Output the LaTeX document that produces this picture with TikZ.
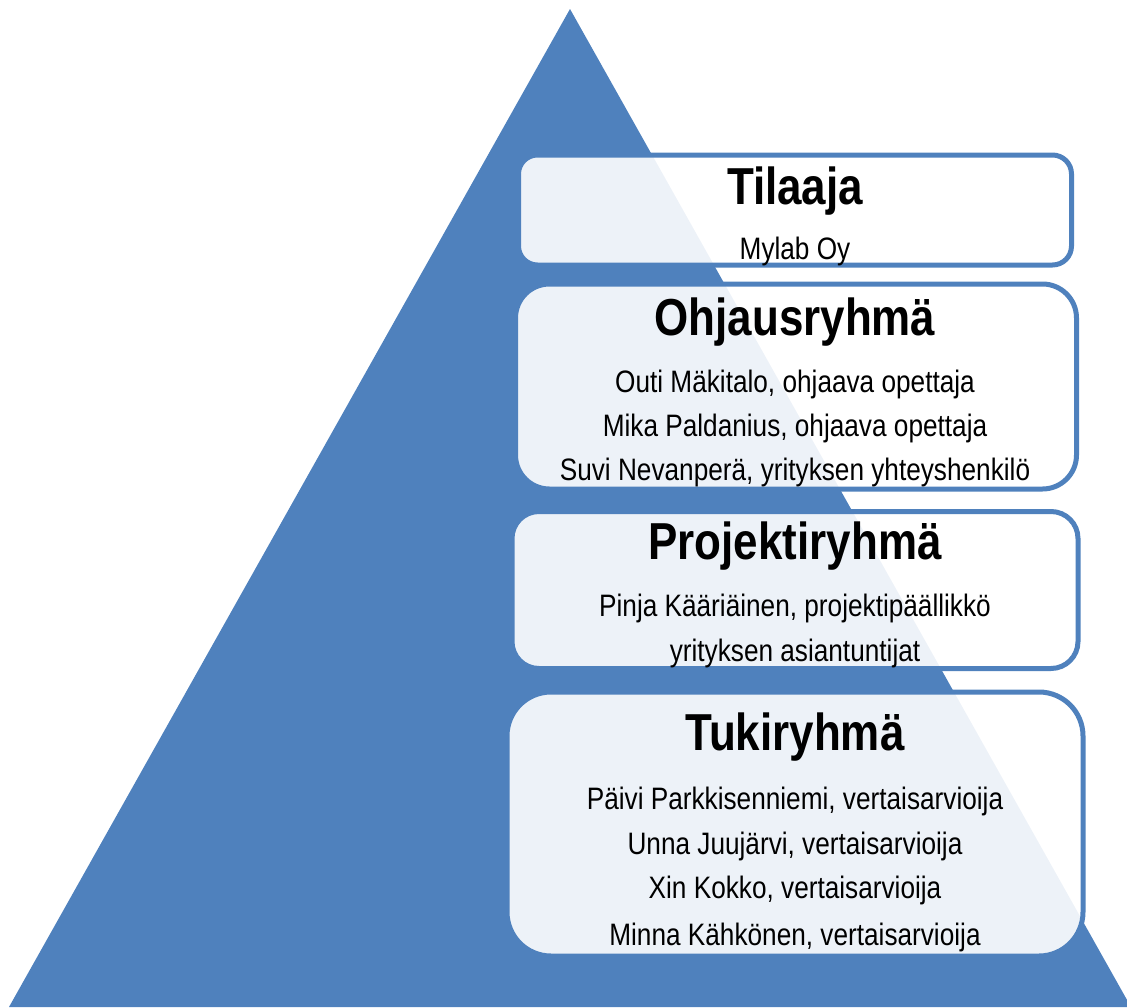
\documentclass[tikz,border=0pt]{standalone}
\usepackage{fontspec}
\setmainfont[FakeStretch=0.845]{Liberation Sans}
\definecolor{pyramid}{HTML}{4F81BD}
\begin{document}
\begin{tikzpicture}
    [x=1pt,y=-1pt,
     tier/.style={draw=pyramid, line width=5pt, fill=white, fill opacity=.9, rectangle, inner sep=0pt},
     title/.style={anchor=base, font=\fontsize{52}{60}\selectfont\bfseries},
     member/.style={anchor=base, font=\fontsize{31}{36}\selectfont}]
  \useasboundingbox (0,0) rectangle (1127,1007);
  \fill[pyramid] (570,9) -- (1131,1007) -- (9,1007) -- cycle;

  \node[tier, rounded corners=19pt, minimum width=553pt, minimum height=110pt] (tilaaja) at (795,210) {};
  \node[tier, rounded corners=34pt, minimum width=561pt, minimum height=205pt] (ohjaus) at (796,386.5) {};
  \node[tier, rounded corners=27pt, minimum width=566pt, minimum height=157pt] (projekti) at (795,590) {};
  \node[tier, rounded corners=44pt, minimum width=576pt, minimum height=264pt] (tuki) at (795,824) {};

  \node[title] (tilaajaT) at (795,204) {Tilaaja};
  \node[member] (mylab) at (795,259) {Mylab Oy};

  \node[title] (ohjausT) at (795,335) {Ohjausryhmä};
  \node[member] (outi) at (795,392) {Outi Mäkitalo, ohjaava opettaja};
  \node[member] (mika) at (795,436) {Mika Paldanius, ohjaava opettaja};
  \node[member] (suvi) at (795,480) {Suvi Nevanperä, yrityksen yhteyshenkilö};

  \node[title] (projektiT) at (795,559) {Projektiryhmä};
  \node[member] (pinja) at (795,616) {Pinja Kääriäinen, projektipäällikkö};
  \node[member] (asiant) at (795,661) {yrityksen asiantuntijat};

  \node[title] (tukiT) at (795,750) {Tukiryhmä};
  \node[member] (paivi) at (795,809) {Päivi Parkkisenniemi, vertaisarvioija};
  \node[member] (unna) at (795,854) {Unna Juujärvi, vertaisarvioija};
  \node[member] (xin) at (795,898) {Xin Kokko, vertaisarvioija};
  \node[member] (minna) at (795,945) {Minna Kähkönen, vertaisarvioija};
\end{tikzpicture}
\end{document}
